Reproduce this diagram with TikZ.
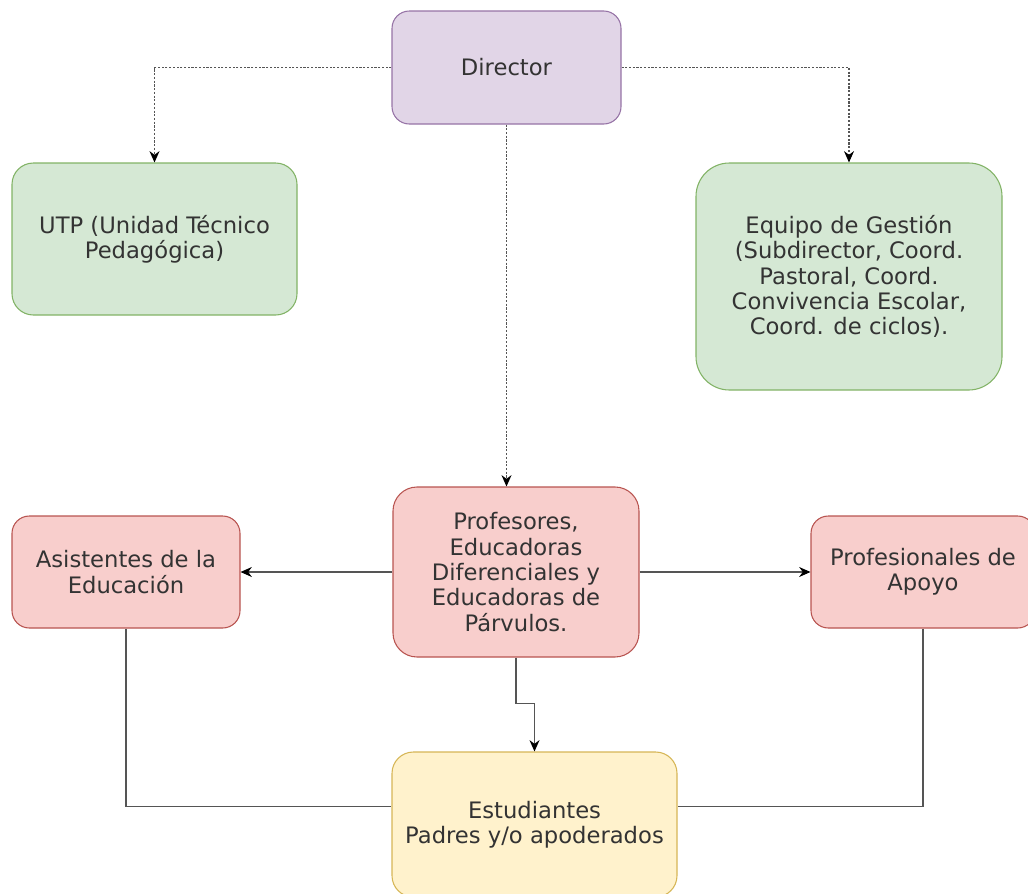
\documentclass[tikz,border=0pt]{standalone}
\usepackage{fontspec}
\setmainfont{DejaVu Sans}
\usetikzlibrary{arrows.meta}
\definecolor{dirfill}{HTML}{E1D5E7}
\definecolor{dirline}{HTML}{9673A6}
\definecolor{greenfill}{HTML}{D5E8D4}
\definecolor{greenline}{HTML}{82B366}
\definecolor{redfill}{HTML}{F8CECC}
\definecolor{redline}{HTML}{B85450}
\definecolor{yellowfill}{HTML}{FFF2CC}
\definecolor{yellowline}{HTML}{D6B656}
\definecolor{textgray}{HTML}{333333}
\definecolor{linegray}{HTML}{555555}

\begin{document}
\begin{tikzpicture}[
  x=0.75pt,y=-0.75pt,
  box/.style={draw,line width=0.8pt,rounded corners=13pt,align=center,inner sep=0pt,
    text=textgray,font=\fontsize{17pt}{19pt}\selectfont},
  dirbox/.style={box,fill=dirfill,draw=dirline},
  greenbox/.style={box,fill=greenfill,draw=greenline},
  redbox/.style={box,fill=redfill,draw=redline},
  yellowbox/.style={box,fill=yellowfill,draw=yellowline},
  dotarrow/.style={-{Stealth[length=8.5pt,width=7.5pt,black]},line width=0.8pt,linegray,
    dash pattern=on 1.6pt off 1.2pt},
  arrow/.style={-{Stealth[length=8.5pt,width=7.5pt,black]},line width=0.8pt,linegray},
  link/.style={line width=0.8pt,linegray}
]
  \useasboundingbox (0,0) rectangle (1028,893);
  \clip (0,0) rectangle (1028,893);

  \node[dirbox,minimum width=171.75pt,minimum height=84.75pt] (dir) at (506.5,67.5) {Director};
  \node[greenbox,minimum width=213.75pt,minimum height=114pt,rounded corners=16pt] (utp) at (154.5,239)
    {UTP (Unidad Técnico\\Pedagógica)};
  \node[greenbox,minimum width=229.5pt,minimum height=170.25pt,rounded corners=25pt] (equipo) at (849,276.5)
    {Equipo de Gestión\\(Subdirector, Coord.\\Pastoral, Coord.\\Convivencia Escolar,\\Coord. de ciclos).};
  \node[redbox,minimum width=184.5pt,minimum height=127.5pt,rounded corners=18pt] (prof) at (516,572)
    {Profesores,\\Educadoras\\Diferenciales y\\Educadoras de\\Párvulos.};
  \node[redbox,minimum width=171pt,minimum height=84pt] (asis) at (126,572)
    {Asistentes de la\\Educación};
  \node[redbox,minimum width=168pt,minimum height=84pt] (apoyo) at (923,572)
    {Profesionales de\\Apoyo};
  \node[yellowbox,minimum width=213.75pt,minimum height=108.75pt,rounded corners=16pt] (stud) at (534.5,824.5)
    {Estudiantes\\Padres y/o apoderados};

  \draw[dotarrow] (dir.west) -| (utp.north);
  \draw[dotarrow] (dir.east) -| (equipo.north);
  \draw[dotarrow] (dir.south) -- (dir.south |- prof.north);

  \draw[arrow] (prof.west) -- (asis.east);
  \draw[arrow] (prof.east) -- (apoyo.west);
  \draw[arrow] (prof.south) -- ++(0,46) -| (stud.north);

  \draw[link] (asis.south) |- (stud.173);
  \draw[link] (apoyo.south) |- (stud.7);
\end{tikzpicture}
\end{document}
